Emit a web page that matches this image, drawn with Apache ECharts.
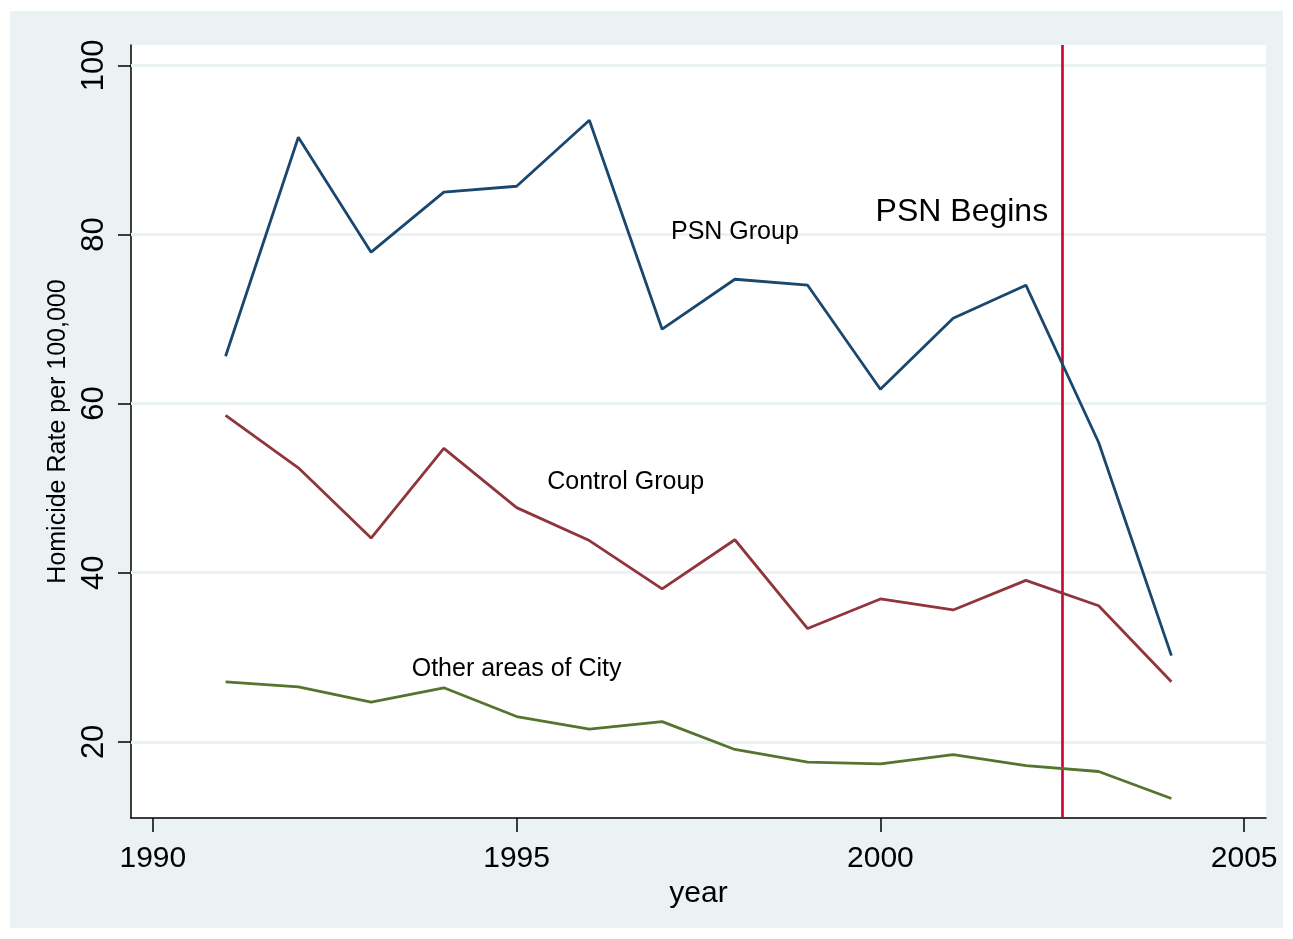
<!DOCTYPE html>
<html>
<head>
<meta charset="utf-8">
<script src="https://cdn.jsdelivr.net/npm/echarts@6/dist/echarts.min.js"></script>
<style>
  html, body { margin: 0; padding: 0; background: #ffffff; }
  #chart { width: 1293px; height: 939px; }
</style>
</head>
<body>
<div id="chart"></div>
<script>
// Homicide rates per 100,000 by area, 1991-2004
const years = [1991, 1992, 1993, 1994, 1995, 1996, 1997, 1998, 1999, 2000, 2001, 2002, 2003, 2004];
const psnGroup = [65.6, 91.5, 77.9, 85.0, 85.7, 93.5, 68.8, 74.7, 74.0, 61.7, 70.1, 74.0, 55.4, 30.2];
const controlGroup = [58.6, 52.4, 44.1, 54.7, 47.7, 43.8, 38.1, 43.9, 33.4, 36.9, 35.6, 39.1, 36.1, 27.1];
const otherAreas = [27.1, 26.5, 24.7, 26.4, 23.0, 21.5, 22.4, 19.1, 17.6, 17.4, 18.5, 17.2, 16.5, 13.3];

const xTicks = [1990, 1995, 2000, 2005];
const yTicks = [20, 40, 60, 80, 100];
const programStart = 2002.5;

// Series labels placed in data coordinates
const seriesNotes = [
  { text: 'PSN Group', x: 1998.0, y: 80.3, size: 25 },
  { text: 'Control Group', x: 1996.5, y: 50.7, size: 25 },
  { text: 'Other areas of City', x: 1995.0, y: 28.6, size: 25 },
  { text: 'PSN Begins', x: 2001.12, y: 82.6, size: 32 }
];

const FONT = '"Liberation Sans", Arial, Helvetica, sans-serif';
const pairs = vals => years.map((yr, i) => [yr, vals[i]]);

const chart = echarts.init(document.getElementById('chart'), null, { renderer: 'canvas' });

const lineSeries = (name, vals, color) => ({
  name: name,
  type: 'line',
  data: pairs(vals),
  symbol: 'none',
  lineStyle: { color: color, width: 2.8 },
  itemStyle: { color: color },
  z: 5,
  animation: false
});

chart.setOption({
  animation: false,
  backgroundColor: '#ffffff',
  graphic: [{
    type: 'rect',
    shape: { x: 10, y: 11, width: 1273, height: 917 },
    style: { fill: '#eaf2f3' },
    z: -10,
    silent: true
  }],
  grid: {
    left: 131, right: 27, top: 45, bottom: 121,
    show: true, backgroundColor: '#ffffff', borderWidth: 0
  },
  xAxis: {
    type: 'value',
    min: 1989.7, max: 2005.3,
    name: 'year',
    nameLocation: 'middle',
    nameGap: 55,
    nameTextStyle: { fontFamily: FONT, fontSize: 30, color: '#000' },
    axisLine: { show: true, lineStyle: { color: '#000', width: 1.5 } },
    axisTick: { show: true, length: 14, lineStyle: { color: '#000', width: 1.5 }, customValues: xTicks },
    axisLabel: {
      fontFamily: FONT, fontSize: 30, color: '#000', margin: 26,
      customValues: xTicks, formatter: v => String(v)
    },
    splitLine: { show: false }
  },
  yAxis: {
    type: 'value',
    min: 11.0, max: 102.4,
    name: 'Homicide Rate per 100,000',
    nameLocation: 'middle',
    nameGap: 57,
    nameRotate: 90,
    nameTextStyle: { fontFamily: FONT, fontSize: 25, color: '#000' },
    axisLine: { show: true, lineStyle: { color: '#000', width: 1.5 } },
    axisTick: { show: true, length: 13, lineStyle: { color: '#000', width: 1.5 }, customValues: yTicks },
    axisLabel: {
      fontFamily: FONT, fontSize: 31, color: '#000', rotate: 90, margin: 21,
      customValues: yTicks, formatter: v => String(v)
    },
    splitLine: { show: false }
  },
  series: [
    {
      // horizontal grid lines and the program start marker
      type: 'line',
      data: [],
      silent: true,
      markLine: {
        silent: true,
        symbol: ['none', 'none'],
        label: { show: false },
        animation: false,
        data: yTicks.map(v => ({ yAxis: v, lineStyle: { color: '#eaf2f3', width: 3, type: 'solid' } }))
          .concat([{ xAxis: programStart, lineStyle: { color: '#c8002f', width: 2.6, type: 'solid' } }])
      },
      z: 2
    },
    lineSeries('PSN Group', psnGroup, '#1a476f'),
    lineSeries('Control Group', controlGroup, '#90353b'),
    lineSeries('Other areas of City', otherAreas, '#55752f'),
    {
      type: 'scatter',
      data: seriesNotes.map(n => ({
        value: [n.x, n.y],
        label: {
          show: true, formatter: n.text, fontSize: n.size,
          fontFamily: FONT, color: '#000000', opacity: 1
        }
      })),
      symbolSize: 0,
      itemStyle: { opacity: 1 },
      silent: true,
      label: {
        show: true,
        position: 'inside',
        fontFamily: FONT,
        color: '#000000',
        opacity: 1
      },
      z: 6
    }
  ]
});
</script>
</body>
</html>
